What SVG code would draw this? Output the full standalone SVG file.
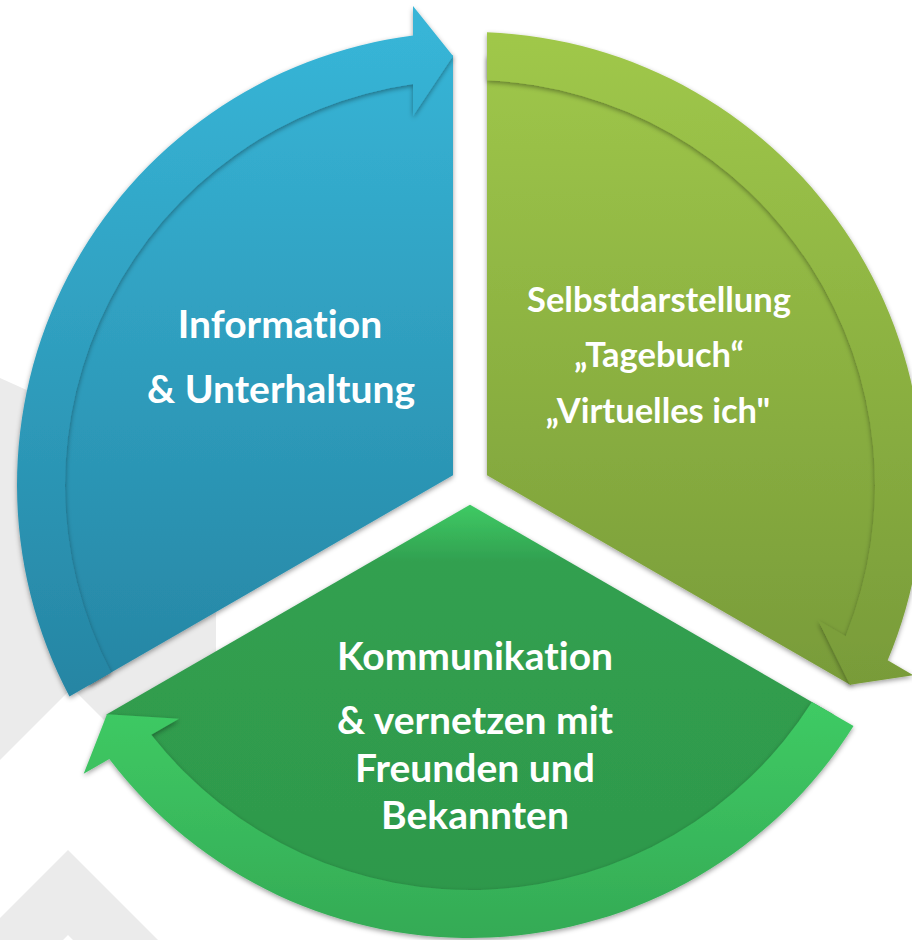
<svg xmlns="http://www.w3.org/2000/svg" width="912" height="940" viewBox="0 0 912 940">
<defs>
<linearGradient id="gBlue" gradientUnits="userSpaceOnUse" x1="0" y1="30" x2="0" y2="700"><stop offset="0" stop-color="#37b5d7"/><stop offset="1" stop-color="#2685a3"/></linearGradient>
<linearGradient id="gGreenR" gradientUnits="userSpaceOnUse" x1="0" y1="30" x2="0" y2="690"><stop offset="0" stop-color="#a0c84a"/><stop offset="1" stop-color="#789b39"/></linearGradient>
<linearGradient id="gBotSec" gradientUnits="userSpaceOnUse" x1="0" y1="505" x2="0" y2="940"><stop offset="0" stop-color="#3fca64"/><stop offset="0.13" stop-color="#31a050"/><stop offset="1" stop-color="#2e974a"/></linearGradient>
<linearGradient id="gBotBand" gradientUnits="userSpaceOnUse" x1="0" y1="700" x2="0" y2="940"><stop offset="0" stop-color="#3fcb64"/><stop offset="1" stop-color="#34aa55"/></linearGradient>
<filter id="sh" x="-10%" y="-10%" width="120%" height="120%"><feDropShadow dx="0" dy="2" stdDeviation="2.5" flood-color="#000" flood-opacity="0.38"/></filter>
</defs>
<style>
.bg{fill:#ebebeb}
.lbl{fill:#ffffff;font-family:Lato,"Open Sans","Liberation Sans",sans-serif;font-weight:700;text-anchor:middle;font-variant-ligatures:none}
.big{font-size:39px}
.mid{font-size:34.5px}
</style>
<rect width="912" height="940" fill="#ffffff"/>
<g id="background">
<polygon class="bg" points="0,378 40,396 216,470 216,832 72,688 0,760"/>
<polygon class="bg" points="0,918 68,850 158,940 73,940 68,935 63,940 0,940"/>
</g>
<g id="node-information">
<path filter="url(#sh)" fill="url(#gBlue)" d="M453 475.19 L89.41 685.11 A430 430 0 0 1 453 55.34 Z"/>
<path filter="url(#sh)" fill="url(#gBlue)" d="M69.47 696.62 A453 453 0 0 1 413 35.6 L413 6 L453 56 L413 116 L413 84.03 A405 405 0 0 0 111.07 672.6 Z"/>
<text class="lbl big" x="280" y="337.5">Information</text>
<text class="lbl big" x="281" y="403">&amp; Unterhaltung</text>
</g>
<g id="node-selbstdarstellung">
<path filter="url(#sh)" fill="url(#gGreenR)" d="M487 475.19 L487 55.34 A430 430 0 0 1 850.59 685.11 Z"/>
<path filter="url(#sh)" fill="url(#gGreenR)" d="M487 32.32 A453 453 0 0 1 887.68 660.34 L913.31 675.14 L850.01 684.78 L818.05 620.14 L845.74 636.13 A405 405 0 0 0 487 80.36 Z"/>
<text class="lbl mid" x="659" y="312">Selbstdarstellung</text>
<text class="lbl mid" x="659" y="367">„Tagebuch“</text>
<text class="lbl mid" x="658" y="423">„Virtuelles ich"</text>
</g>
<g id="node-kommunikation">
<path filter="url(#sh)" fill="url(#gBotSec)" d="M470 504.63 L833.59 714.55 A430 430 0 0 1 106.41 714.55 Z"/>
<path filter="url(#sh)" fill="url(#gBotBand)" d="M853.52 726.06 A453 453 0 0 1 109.32 759.06 L83.69 773.86 L106.99 714.22 L178.95 718.86 L151.26 734.85 A405 405 0 0 0 811.92 702.04 Z"/>
<text class="lbl big" x="475" y="670">Kommunikation</text>
<text class="lbl big" x="475" y="734">&amp; vernetzen mit</text>
<text class="lbl big" x="475" y="782">Freunden und</text>
<text class="lbl big" x="475" y="829">Bekannten</text>
</g>
<g id="connectors"></g>
</svg>
